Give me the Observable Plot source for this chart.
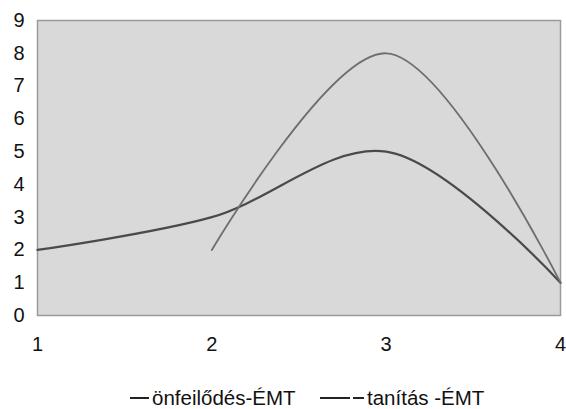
<!DOCTYPE html>
<html>
<head>
<meta charset="utf-8">
<script src="https://cdn.jsdelivr.net/npm/d3@7"></script>
<script src="https://cdn.jsdelivr.net/npm/@observablehq/plot@0.6"></script>
<style>
  html, body { margin: 0; padding: 0; background: #fff; }
  body { width: 566px; height: 409px; overflow: hidden; position: relative; font-family: "Liberation Sans", Arial, sans-serif; }
  #chart svg text { font-size: 20px !important; fill: #111; }
  .item { position: absolute; top: 386px; display: flex; align-items: center; font-size: 20.5px; line-height: 23px; color: #111; white-space: nowrap; }
  .item svg { display: block; margin-right: 3px; }
</style>
</head>
<body>
<div id="chart"></div>
<div id="legend"></div>
<script>
const xValues = [1, 2, 3, 4];
const seriesNames = ["önfeilődés-ÉMT", "tanítás -ÉMT"];
const onfejlodes = [2, 3, 5, 1];
const tanitas = [null, 2, 8, 1];
const yTicks = [0, 1, 2, 3, 4, 5, 6, 7, 8, 9];
const colors = ["#4a4a4a", "#6e6e6e"];

const rows = [];
xValues.forEach((x, i) => {
  if (onfejlodes[i] != null) rows.push({x, y: onfejlodes[i], s: seriesNames[0]});
  if (tanitas[i] != null) rows.push({x, y: tanitas[i], s: seriesNames[1]});
});

const chart = Plot.plot({
  width: 566,
  height: 358,
  marginLeft: 37,
  marginRight: 6,
  marginTop: 20,
  marginBottom: 43,
  style: {fontFamily: "Liberation Sans, Arial, sans-serif", fontSize: "20px", color: "#111", background: "#fff"},
  x: {domain: [1, 4], ticks: xValues, tickFormat: d => String(d), tickSize: 0, tickPadding: 21, label: null},
  y: {domain: [0, 9], ticks: yTicks, tickSize: 0, tickPadding: 13, label: null},
  marks: [
    Plot.frame({fill: "#d9d9d9", stroke: "#9a9a9a", strokeWidth: 1.5}),
    Plot.line(rows, {x: "x", y: "y", z: "s", stroke: d => d.s === seriesNames[0] ? colors[0] : colors[1], strokeWidth: d => d.s === seriesNames[0] ? 2.2 : 1.8, curve: "catmull-rom"})
  ]
});
document.getElementById("chart").appendChild(chart);

const legend = document.getElementById("legend");
const legendLeft = [130, 320];
const swatchW = [19, 44];
seriesNames.forEach((n, i) => {
  const it = document.createElement("div");
  it.className = "item";
  it.style.left = legendLeft[i] + "px";
  const w = swatchW[i];
  const dash = i === 1 ? ' stroke-dasharray="30 3 11 0"' : '';
  it.innerHTML = `<svg width="${w}" height="4"><line x1="0" x2="${w}" y1="2" y2="2" stroke="#222" stroke-width="2"${dash}/></svg>`;
  it.appendChild(document.createTextNode(n));
  legend.appendChild(it);
});
</script>
</body>
</html>
